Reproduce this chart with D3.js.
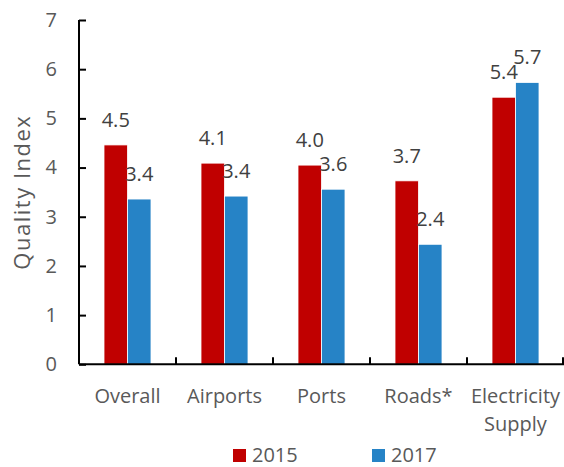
<!DOCTYPE html>
<html>
<head>
<meta charset="utf-8">
<script src="https://cdn.jsdelivr.net/npm/d3@7"></script>
<style>
  body { margin: 0; background: #fff; }
  svg text { font-family: "Open Sans", sans-serif; }
</style>
</head>
<body>
<div id="chart"></div>
<script>
// values
var categories = ['Overall', 'Airports', 'Ports', 'Roads*', 'Electricity Supply'];
var years = ['2015', '2017'];
var values2015 = [4.46, 4.09, 4.05, 3.73, 5.43];
var values2017 = [3.36, 3.42, 3.56, 2.44, 5.73];
var labels2015 = ['4.5', '4.1', '4.0', '3.7', '5.4'];
var labels2017 = ['3.4', '3.4', '3.6', '2.4', '5.7'];
var yTicks = [0, 1, 2, 3, 4, 5, 6, 7];

var width = 564;
var height = 467;
var margin = { top: 20, left: 79, bottom: 103, right: 0 };
var colors = { '2015': '#C00000', '2017': '#2683C6' };

var svg = d3.select('#chart').append('svg')
    .attr('width', width)
    .attr('height', height);

var x = d3.scaleBand()
    .domain(categories)
    .range([margin.left, width - margin.right]);

var xInner = d3.scaleBand()
    .domain(years)
    .range([0, 47])
    .padding(0);

var y = d3.scaleLinear()
    .domain([0, 7])
    .range([height - margin.bottom + 0.3, margin.top]);

// build rows
var rows = categories.map(function (c, i) {
    return [
        { cat: c, year: '2015', value: values2015[i], label: labels2015[i] },
        { cat: c, year: '2017', value: values2017[i], label: labels2017[i] }
    ];
});

var groups = svg.selectAll('.grp')
    .data(rows)
    .enter().append('g')
    .attr('class', 'grp')
    .attr('transform', function (d) {
        return 'translate(' + (x(d[0].cat) + x.bandwidth() / 2 - 23.5) + ',0)';
    });

groups.selectAll('rect')
    .data(function (d) { return d; })
    .enter().append('rect')
    .attr('x', function (d) { return xInner(d.year); })
    .attr('width', xInner.bandwidth())
    .attr('y', function (d) { return y(d.value); })
    .attr('height', function (d) { return y(0) - y(d.value); })
    .attr('fill', function (d) { return colors[d.year]; })
    .attr('stroke', '#fff')
    .attr('stroke-width', 0.8);

groups.selectAll('.val')
    .data(function (d) { return d; })
    .enter().append('text')
    .attr('class', 'val')
    .attr('x', function (d) { return xInner(d.year) + xInner.bandwidth() / 2; })
    .attr('y', function (d) { return y(d.value) - 18; })
    .attr('text-anchor', 'middle')
    .attr('font-size', 20)
    .attr('fill', '#404040')
    .text(function (d) { return d.label; });

// y axis
var yAxis = svg.append('g')
    .attr('transform', 'translate(' + margin.left + ',0)')
    .call(d3.axisRight(y).tickValues(yTicks).tickSize(7).tickFormat(d3.format('d')));
yAxis.select('.domain').attr('stroke', '#000').attr('stroke-width', 2)
    .attr('d', 'M0,' + y(7) + 'V' + y(0));
yAxis.selectAll('.tick line').attr('stroke', '#000').attr('stroke-width', 2);
yAxis.selectAll('.tick text')
    .attr('x', -22)
    .attr('text-anchor', 'end')
    .attr('font-size', 20)
    .attr('fill', '#595959');

// x axis line with boundary ticks
var xAxis = svg.append('g');
xAxis.append('line')
    .attr('x1', margin.left)
    .attr('x2', width)
    .attr('y1', y(0))
    .attr('y2', y(0))
    .attr('stroke', '#000')
    .attr('stroke-width', 2);
xAxis.selectAll('.bt')
    .data(categories.slice(1).concat(['end']))
    .enter().append('line')
    .attr('x1', function (d) { return d === 'end' ? width - 1 : x(d); })
    .attr('x2', function (d) { return d === 'end' ? width - 1 : x(d); })
    .attr('y1', y(0))
    .attr('y2', y(0) - 7)
    .attr('stroke', '#000')
    .attr('stroke-width', 2);

var catLabels = xAxis.selectAll('.cat')
    .data(categories)
    .enter().append('text')
    .attr('class', 'cat')
    .attr('text-anchor', 'middle')
    .attr('font-size', 20)
    .attr('fill', '#595959')
    .attr('transform', function (d) {
        return 'translate(' + (x(d) + x.bandwidth() / 2) + ',403)';
    });
catLabels.each(function (d) {
    var words = d === 'Electricity Supply' ? ['Electricity', 'Supply'] : [d];
    var t = d3.select(this);
    words.forEach(function (w, i) {
        t.append('tspan').attr('x', 0).attr('y', i * 28).text(w);
    });
});

// y title
svg.append('text')
    .attr('transform', 'translate(30,' + ((y(0) + y(7)) / 2) + ') rotate(-90)')
    .attr('text-anchor', 'middle')
    .attr('font-size', 22)
    .attr('letter-spacing', 1.5)
    .attr('fill', '#595959')
    .text('Quality Index');

// legend
var legendX = [233, 372];
var legend = svg.selectAll('.leg')
    .data(years)
    .enter().append('g')
    .attr('class', 'leg')
    .attr('transform', function (d, i) { return 'translate(' + legendX[i] + ',449)'; });
legend.append('rect')
    .attr('width', 13)
    .attr('height', 13)
    .attr('fill', function (d) { return colors[d]; });
legend.append('text')
    .attr('x', 19)
    .attr('y', 13)
    .attr('font-size', 20)
    .attr('fill', '#595959')
    .text(function (d) { return d; });
</script>
</body>
</html>
